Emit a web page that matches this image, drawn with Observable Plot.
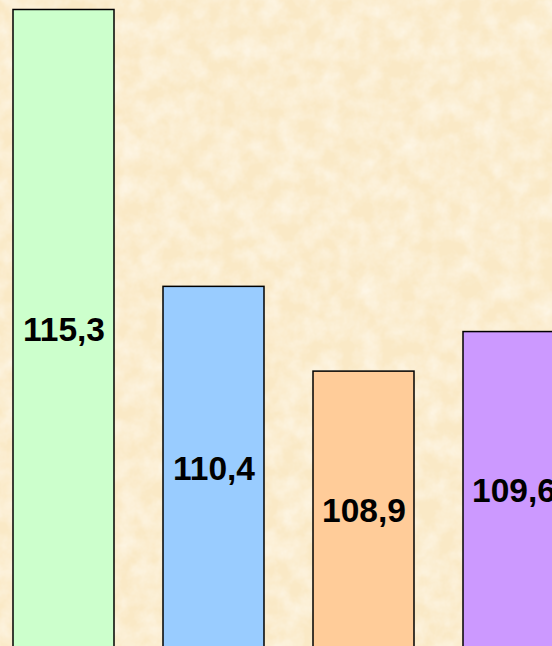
<!DOCTYPE html>
<html>
<head>
<meta charset="utf-8">
<script src="https://cdn.jsdelivr.net/npm/d3@7"></script>
<script src="https://cdn.jsdelivr.net/npm/@observablehq/plot@0.6"></script>
<style>
  html, body { margin: 0; padding: 0; width: 552px; height: 646px; overflow: hidden; background: #fbebcb; }
  #wrap { position: relative; width: 552px; height: 646px; }
  #tex { position: absolute; left: 0; top: 0; }
  #chart { position: absolute; left: 0; top: 0; }
</style>
</head>
<body>
<div id="wrap">
  <svg id="tex" width="552" height="646">
    <filter id="parch" x="0" y="0" width="100%" height="100%">
      <feTurbulence type="fractalNoise" baseFrequency="0.05" numOctaves="4" seed="7" result="n"/>
      <feColorMatrix in="n" type="matrix"
        values="0 0 0 0 1
                0 0 0 0 0.98
                0 0 0 0 0.93
                0 0 0 1.0 -0.3" />
    </filter>
    <rect width="552" height="646" fill="#fae9c6"/>
    <rect width="552" height="646" filter="url(#parch)"/>
  </svg>
  <div id="chart"></div>
</div>
<script>
const categories = ["A", "B", "C", "D"];
const values = [115.3, 110.4, 108.9, 109.6];
const labels = ["115,3", "110,4", "108,9", "109,6"];
const colors = ["#ccffcc", "#99ccff", "#ffcc99", "#cc99ff"];

const baseline = 103.96;
const data = categories.map((c, i) => ({
  cat: c, value: values[i], label: labels[i], color: colors[i],
  mid: (values[i] + baseline) / 2
}));

const chart = Plot.plot({
  width: 552,
  height: 646,
  margin: 0,
  style: { background: "transparent", overflow: "hidden" },
  x: { type: "band", domain: categories, range: [12.5, 565], paddingInner: 0.329, paddingOuter: 0, align: 0, axis: null },
  y: { domain: [104.035, 115.468], range: [646, 0], axis: null },
  marks: [
    Plot.barY(data, { x: "cat", y1: () => baseline - 0.1, y2: "value", fill: "color", stroke: "#000", strokeWidth: 1.5 }),
    Plot.text(data, { x: "cat", y: "mid", text: "label", fill: "#000", fontSize: 33.5, fontWeight: "bold", fontFamily: "Liberation Sans, Arial, sans-serif" })
  ]
});
document.getElementById("chart").appendChild(chart);
</script>
</body>
</html>
